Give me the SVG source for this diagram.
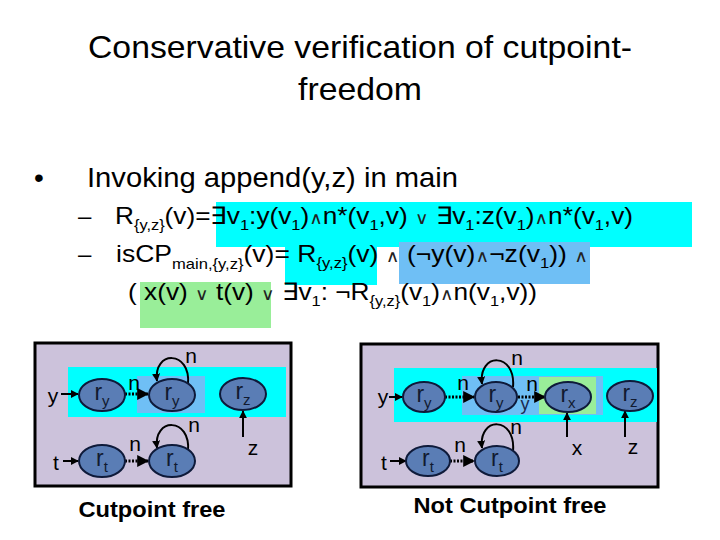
<svg xmlns="http://www.w3.org/2000/svg" width="720" height="540" viewBox="0 0 720 540">
<defs>
<marker id="ah" viewBox="0 0 10 10" refX="9" refY="5" markerWidth="4" markerHeight="4" orient="auto" markerUnits="strokeWidth">
<path d="M0,0 L10,5 L0,10 z" fill="#000"/>
</marker>
<style>
.ttl{font-family:"Liberation Sans",Arial,sans-serif;font-size:32px;fill:#000}
.txt{font-family:"Liberation Sans",Arial,sans-serif;fill:#000}
.sym{font-family:"DejaVu Sans",sans-serif;font-size:17px;fill:#222}
.lbl{font-family:"Liberation Sans",Arial,sans-serif;font-size:21px;fill:#000;text-anchor:middle}
.nl{font-family:"Liberation Sans",Arial,sans-serif;font-size:23px;fill:#111a30;text-anchor:middle}
.node{fill:#5A7DB5;stroke:#0E1A3A;stroke-width:2}
.edge{stroke:#000;stroke-width:2;fill:none;marker-end:url(#ah)}
.dot{stroke:#000;stroke-width:3;stroke-dasharray:2 1.5;fill:none;marker-end:url(#ah)}
.loop{stroke:#000;stroke-width:2;fill:none;marker-end:url(#ah)}
.cap{font-family:"Liberation Sans",Arial,sans-serif;font-size:22px;font-weight:bold;fill:#000;text-anchor:middle}
</style>
</defs>
<rect width="720" height="540" fill="#fff"/>

<!-- highlights -->
<rect x="216" y="202" width="476" height="45" fill="#00FFFF"/>
<rect x="285" y="247" width="92" height="38" fill="#00FFFF"/>
<rect x="399" y="242" width="191" height="42" fill="#6FBFF5"/>
<rect x="140" y="282" width="131" height="46" fill="#99EE99"/>

<!-- title -->
<text class="ttl" x="88" y="58" textLength="544" lengthAdjust="spacingAndGlyphs">Conservative verification of cutpoint-</text>
<text class="ttl" x="298" y="100" textLength="124" lengthAdjust="spacingAndGlyphs">freedom</text>

<text class="txt" x="34" y="187" font-size="28">•</text>
<text class="txt" x="87" y="187" font-size="28" textLength="371" lengthAdjust="spacingAndGlyphs">Invoking append(y,z) in main</text>

<text class="txt" x="78" y="224" font-size="24">–</text>
<text class="txt" x="115" y="224" font-size="24" textLength="518" lengthAdjust="spacingAndGlyphs">R<tspan font-size="15" dy="6">{y,z}</tspan><tspan dy="-6">(v)=∃v</tspan><tspan font-size="15" dy="6">1</tspan><tspan dy="-6">:y(v</tspan><tspan font-size="15" dy="6">1</tspan><tspan dy="-6">)</tspan><tspan class="sym">∧</tspan>n*(v<tspan font-size="15" dy="6">1</tspan><tspan dy="-6">,v) </tspan><tspan class="sym">∨</tspan> ∃v<tspan font-size="15" dy="6">1</tspan><tspan dy="-6">:z(v</tspan><tspan font-size="15" dy="6">1</tspan><tspan dy="-6">)</tspan><tspan class="sym">∧</tspan>n*(v<tspan font-size="15" dy="6">1</tspan><tspan dy="-6">,v)</tspan></text>

<text class="txt" x="78" y="262" font-size="24">–</text>
<text class="txt" x="116" y="262" font-size="24" textLength="472" lengthAdjust="spacingAndGlyphs">isCP<tspan font-size="15" dy="7">main,{y,z}</tspan><tspan dy="-7">(v)=  R</tspan><tspan font-size="15" dy="6">{y,z}</tspan><tspan dy="-6">(v) </tspan><tspan class="sym">∧</tspan>  (¬y(v)<tspan class="sym">∧</tspan>¬z(v<tspan font-size="15" dy="6">1</tspan><tspan dy="-6">)) </tspan><tspan class="sym">∧</tspan></text>

<text class="txt" x="128" y="300" font-size="24" textLength="409" lengthAdjust="spacingAndGlyphs">( x(v) <tspan class="sym">∨</tspan> t(v) <tspan class="sym">∨</tspan> ∃v<tspan font-size="15" dy="6">1</tspan><tspan dy="-6">: ¬R</tspan><tspan font-size="15" dy="6">{y,z}</tspan><tspan dy="-6">(v</tspan><tspan font-size="15" dy="6">1</tspan><tspan dy="-6">)</tspan><tspan class="sym">∧</tspan>n(v<tspan font-size="15" dy="6">1</tspan><tspan dy="-6">,v))</tspan></text>

<!-- LEFT DIAGRAM -->
<g id="left-frame">
<rect x="35" y="343" width="256" height="143" fill="#CCC2DB" stroke="#000" stroke-width="3"/>
<rect x="68" y="367" width="218" height="50" fill="#00FFFF"/>
<rect x="137" y="376" width="68" height="37" fill="#6FBFF5"/>
</g>
<g id="L-connectors">
<line class="edge" x1="61" y1="394" x2="78" y2="394"/>
<line class="dot" x1="125" y1="394" x2="148" y2="394"/>
<path class="loop" d="M188,384 C191,350 153,350 157,381"/>
<line class="edge" x1="243" y1="437" x2="243" y2="411"/>
<line class="edge" x1="63" y1="461" x2="78" y2="461"/>
<line class="dot" x1="125" y1="461" x2="148" y2="461"/>
<path class="loop" d="M188,451 C191,417 153,417 157,448"/>
<text class="lbl" x="53" y="403">y</text>
<text class="lbl" x="134" y="390">n</text>
<text class="lbl" x="191" y="363">n</text>
<text class="lbl" x="253" y="455">z</text>
<text class="lbl" x="56" y="470">t</text>
<text class="lbl" x="135" y="451">n</text>
<text class="lbl" x="194" y="432">n</text>
</g>
<g id="L-ry1"><ellipse class="node" cx="102" cy="395" rx="23" ry="16"/><text class="nl" x="102" y="400">r<tspan font-size="15" dy="6">y</tspan></text></g>
<g id="L-ry2"><ellipse class="node" cx="172" cy="395" rx="23" ry="16"/><text class="nl" x="172" y="400">r<tspan font-size="15" dy="6">y</tspan></text></g>
<g id="L-rz"><ellipse class="node" cx="243" cy="394" rx="23" ry="16"/><text class="nl" x="243" y="399">r<tspan font-size="15" dy="6">z</tspan></text></g>
<g id="L-rt1"><ellipse class="node" cx="102" cy="461" rx="23" ry="16"/><text class="nl" x="102" y="466">r<tspan font-size="15" dy="6">t</tspan></text></g>
<g id="L-rt2"><ellipse class="node" cx="172" cy="461" rx="23" ry="16"/><text class="nl" x="172" y="466">r<tspan font-size="15" dy="6">t</tspan></text></g>
<text class="cap" x="152" y="517" textLength="147" lengthAdjust="spacingAndGlyphs">Cutpoint free</text>

<!-- RIGHT DIAGRAM -->
<g id="right-frame">
<rect x="361" y="344" width="297" height="143" fill="#CCC2DB" stroke="#000" stroke-width="3"/>
<rect x="394" y="368" width="263" height="54" fill="#00FFFF"/>
<rect x="462" y="376" width="141" height="39" fill="#6FBFF5"/>
<rect x="539" y="377" width="57" height="37" fill="#99EE99"/>
</g>
<g id="R-connectors">
<line class="edge" x1="389" y1="397" x2="402" y2="397"/>
<line class="dot" x1="445" y1="397" x2="474" y2="397"/>
<path class="loop" d="M513,387 C516,352 478,352 482,384"/>
<line class="dot" x1="518" y1="397" x2="545" y2="397"/>
<line class="edge" x1="567" y1="437" x2="567" y2="413"/>
<line class="edge" x1="625" y1="437" x2="625" y2="411"/>
<line class="edge" x1="390" y1="461" x2="406" y2="461"/>
<line class="dot" x1="450" y1="461" x2="474" y2="461"/>
<path class="loop" d="M513,451 C516,416 478,416 482,448"/>
<text class="lbl" x="383" y="404">y</text>
<text class="lbl" x="463" y="390">n</text>
<text class="lbl" x="517" y="365">n</text>
<text class="lbl" x="532" y="391">n</text>
<text x="525" y="410" font-family="Liberation Sans, Arial, sans-serif" font-size="18" fill="#1a2a50" text-anchor="middle">y</text>
<text class="lbl" x="577" y="455">x</text>
<text class="lbl" x="633" y="454">z</text>
<text class="lbl" x="384" y="470">t</text>
<text class="lbl" x="460" y="452">n</text>
<text class="lbl" x="516" y="434">n</text>
</g>
<g id="R-ry1"><ellipse class="node" cx="424" cy="397" rx="21" ry="15"/><text class="nl" x="424" y="402">r<tspan font-size="15" dy="6">y</tspan></text></g>
<g id="R-ry2"><ellipse class="node" cx="496" cy="397" rx="21" ry="15"/><text class="nl" x="496" y="402">r<tspan font-size="15" dy="6">y</tspan></text></g>
<g id="R-rx"><ellipse class="node" cx="568" cy="397" rx="23" ry="15"/><text class="nl" x="568" y="402">r<tspan font-size="15" dy="6">x</tspan></text></g>
<g id="R-rz"><ellipse class="node" cx="630" cy="396" rx="23" ry="15"/><text class="nl" x="630" y="401">r<tspan font-size="15" dy="6">z</tspan></text></g>
<g id="R-rt1"><ellipse class="node" cx="428" cy="461" rx="22" ry="15"/><text class="nl" x="428" y="466">r<tspan font-size="15" dy="6">t</tspan></text></g>
<g id="R-rt2"><ellipse class="node" cx="497" cy="461" rx="22" ry="15"/><text class="nl" x="497" y="466">r<tspan font-size="15" dy="6">t</tspan></text></g>
<text class="cap" x="510" y="513" textLength="193" lengthAdjust="spacingAndGlyphs">Not Cutpoint free</text>
</svg>
